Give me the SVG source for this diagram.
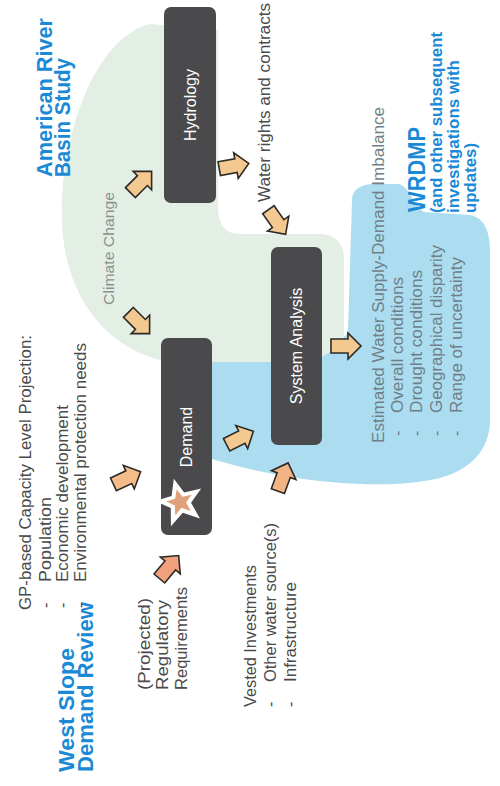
<svg xmlns="http://www.w3.org/2000/svg" width="500" height="786" viewBox="0 0 500 786">
<defs>
<style>
.box{fill:#4a4a4c;}
.nl{fill:#ffffff;font-family:"Liberation Sans",Arial,sans-serif;font-size:16px;text-anchor:middle;dominant-baseline:central;}
.t{fill:#4a4a4a;font-family:"Liberation Sans",Arial,sans-serif;font-size:16px;}
.tb{fill:#6f7f88;font-family:"Liberation Sans",Arial,sans-serif;font-size:16px;}
.tc{fill:#8a9090;font-family:"Liberation Sans",Arial,sans-serif;font-size:15px;}
.h{fill:#1b8ad6;font-family:"Liberation Sans",Arial,sans-serif;font-weight:bold;}
.arr{stroke:#2d2a26;stroke-width:1.6;stroke-linejoin:miter;}
</style>
<path id="ar" d="M-15,-7 L2,-7 L2,-13 L15,0 L2,13 L2,7 L-15,7 Z"/>
</defs>
<rect width="500" height="786" fill="#ffffff"/>

<g id="backgrounds">
<path d="M218,30 L150,24 C98,36 60,130 62,220 C64,300 110,352 170,362 L300,365 C330,365 344,350 344,330 L344,258 C344,242 334,234 318,234 L240,234 C226,234 218,226 218,205 Z" fill="#e3eee5"/>
<path d="M205,362 L300,362 C322,362 335,350 348,332 L352,200 C352,190 360,184 375,184 L398,184 C410,186 412,205 424,212 L470,215 C485,218 490,232 490,252 L490,420 C490,450 470,470 440,478 C400,488 340,485 290,477 C252,471 226,463 205,457 Z" fill="#abdcef"/>
</g>

<g id="titles">
<text class="h" font-size="22" transform="translate(52,177) rotate(-90)" textLength="159" lengthAdjust="spacingAndGlyphs">American River</text>
<text class="h" font-size="22" transform="translate(70,177) rotate(-90)" textLength="119" lengthAdjust="spacingAndGlyphs">Basin Study</text>
<text class="h" font-size="22" transform="translate(74,772) rotate(-90)" textLength="124" lengthAdjust="spacingAndGlyphs">West Slope</text>
<text class="h" font-size="22" transform="translate(93,772) rotate(-90)" textLength="170" lengthAdjust="spacingAndGlyphs">Demand Review</text>
<text class="h" font-size="23" transform="translate(425,212) rotate(-90)" textLength="85" lengthAdjust="spacingAndGlyphs">WRDMP</text>
<text class="h" font-size="16" transform="translate(442,213) rotate(-90)" textLength="181" lengthAdjust="spacingAndGlyphs">(and other subsequent</text>
<text class="h" font-size="16" transform="translate(459,213) rotate(-90)" textLength="153" lengthAdjust="spacingAndGlyphs">investigations with</text>
<text class="h" font-size="16" transform="translate(476,213) rotate(-90)" textLength="70" lengthAdjust="spacingAndGlyphs">updates)</text>
</g>

<g id="labels">
<text class="t" transform="translate(31,610) rotate(-90)" textLength="275" lengthAdjust="spacingAndGlyphs">GP-based Capacity Level Projection:</text>
<text class="t" transform="translate(51,608) rotate(-90)">-</text>
<text class="t" transform="translate(51,582) rotate(-90)" textLength="85" lengthAdjust="spacingAndGlyphs">Population</text>
<text class="t" transform="translate(68,608) rotate(-90)">-</text>
<text class="t" transform="translate(68,582) rotate(-90)" textLength="177" lengthAdjust="spacingAndGlyphs">Economic development</text>
<text class="t" transform="translate(86,608) rotate(-90)">-</text>
<text class="t" transform="translate(86,582) rotate(-90)" textLength="239" lengthAdjust="spacingAndGlyphs">Environmental protection needs</text>

<text class="tc" transform="translate(114,305) rotate(-90)" textLength="113" lengthAdjust="spacingAndGlyphs">Climate Change</text>
<text class="t" transform="translate(270,202) rotate(-90)" textLength="199" lengthAdjust="spacingAndGlyphs">Water rights and contracts</text>

<text class="t" transform="translate(150,690) rotate(-90)" textLength="92" lengthAdjust="spacingAndGlyphs">(Projected)</text>
<text class="t" transform="translate(168,690) rotate(-90)" textLength="90" lengthAdjust="spacingAndGlyphs">Regulatory</text>
<text class="t" transform="translate(187,690) rotate(-90)" textLength="103" lengthAdjust="spacingAndGlyphs">Requirements</text>

<text class="t" transform="translate(256,707) rotate(-90)" textLength="142" lengthAdjust="spacingAndGlyphs">Vested Investments</text>
<text class="t" transform="translate(276,707) rotate(-90)">-</text>
<text class="t" transform="translate(276,682) rotate(-90)" textLength="159" lengthAdjust="spacingAndGlyphs">Other water source(s)</text>
<text class="t" transform="translate(296,707) rotate(-90)">-</text>
<text class="t" transform="translate(296,682) rotate(-90)" textLength="100" lengthAdjust="spacingAndGlyphs">Infrastructure</text>

<text class="tb" transform="translate(384,443) rotate(-90)" textLength="336" lengthAdjust="spacingAndGlyphs">Estimated Water Supply-Demand Imbalance</text>
<text class="tb" transform="translate(403,436) rotate(-90)">-</text>
<text class="tb" transform="translate(403,413) rotate(-90)" textLength="136" lengthAdjust="spacingAndGlyphs">Overall conditions</text>
<text class="tb" transform="translate(422,436) rotate(-90)">-</text>
<text class="tb" transform="translate(422,413) rotate(-90)" textLength="143" lengthAdjust="spacingAndGlyphs">Drought conditions</text>
<text class="tb" transform="translate(442,436) rotate(-90)">-</text>
<text class="tb" transform="translate(442,413) rotate(-90)" textLength="168" lengthAdjust="spacingAndGlyphs">Geographical disparity</text>
<text class="tb" transform="translate(462,436) rotate(-90)">-</text>
<text class="tb" transform="translate(462,413) rotate(-90)" textLength="156" lengthAdjust="spacingAndGlyphs">Range of uncertainty</text>
</g>

<g id="connectors">
<use href="#ar" class="arr" fill="#f4c891" transform="translate(141,182) rotate(-45)"/>
<use href="#ar" class="arr" fill="#f4c891" transform="translate(139,323) rotate(45)"/>
<use href="#ar" class="arr" fill="#f4c891" transform="translate(234,166) rotate(-10)"/>
<use href="#ar" class="arr" fill="#f4c891" transform="translate(277,222) rotate(55)"/>
<use href="#ar" class="arr" fill="#f3bc88" transform="translate(127,478) rotate(-25)"/>
<use href="#ar" class="arr" fill="#f0a07c" transform="translate(169,567) rotate(-50)"/>
<use href="#ar" class="arr" fill="#f4c891" transform="translate(240,438) rotate(-27)"/>
<use href="#ar" class="arr" fill="#f2b484" transform="translate(283,477) rotate(-70)"/>
<use href="#ar" class="arr" fill="#f4c891" transform="translate(346,346)"/>
</g>

<g id="hydrology">
<rect class="box" x="164" y="7" width="52" height="196" rx="7"/>
<text class="nl" transform="translate(190,105) rotate(-90)">Hydrology</text>
</g>

<g id="demand">
<rect class="box" x="161" y="338" width="51" height="197" rx="7"/>
<text class="nl" transform="translate(186.5,437) rotate(-90)">Demand</text>
<g transform="translate(180,502) rotate(-15)">
<polygon points="0,-24 6.5,-8 24,-7.5 10.5,3.5 15,21 0,11 -15,21 -10.5,3.5 -24,-7.5 -6.5,-8" fill="#ffffff"/>
<polygon points="0,-13 3.8,-4.5 13,-4 5.8,2 8,11.5 0,6 -8,11.5 -5.8,2 -13,-4 -3.8,-4.5" fill="#e0a07a"/>
</g>
</g>

<g id="system-analysis">
<rect class="box" x="271" y="247" width="51" height="198" rx="7"/>
<text class="nl" font-size="17" transform="translate(296.5,346) rotate(-90)">System Analysis</text>
</g>
</svg>
